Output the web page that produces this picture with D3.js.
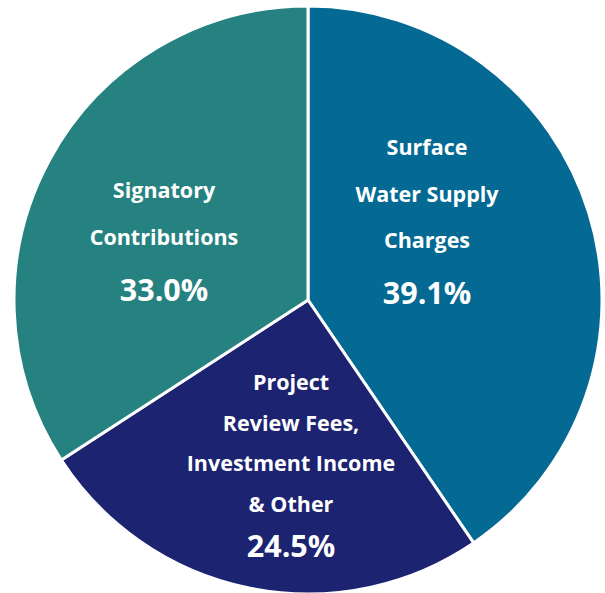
<!DOCTYPE html>
<html>
<head>
<meta charset="utf-8">
<script src="https://cdn.jsdelivr.net/npm/d3@7"></script>
<style>
  html, body { margin: 0; padding: 0; background: #ffffff; }
  svg { display: block; }
  text { font-family: "Open Sans", Lato, sans-serif; font-weight: bold; fill: #ffffff; }
</style>
</head>
<body>
<svg id="chart" width="605" height="593"></svg>
<script>
// Revenue sources (percent of total)
const categories = ["Surface Water Supply Charges", "Project Review Fees, Investment Income & Other", "Signatory Contributions"];
const values = [39.1, 24.5, 33.0];
const labelLines = [
  ["Surface", "Water Supply", "Charges"],
  ["Project", "Review Fees,", "Investment Income", "& Other"],
  ["Signatory", "Contributions"]
];
const colors = ["#046a94", "#1c2370", "#268280"];

const svg = d3.select("#chart");
const cx = 308, cy = 300, radius = 294;

const g = svg.append("g").attr("transform", `translate(${cx},${cy})`);

const pie = d3.pie().sort(null).value(d => d.value);
const data = pie(categories.map((c, i) => ({ name: c, value: values[i], lines: labelLines[i], color: colors[i] })));

const arc = d3.arc().innerRadius(0).outerRadius(radius);

g.selectAll("path.slice")
  .data(data)
  .join("path")
  .attr("class", "slice")
  .attr("d", arc)
  .attr("fill", d => d.data.color)
  .attr("stroke", "#ffffff")
  .attr("stroke-width", 3)
  .attr("stroke-linejoin", "round");

// Label block placement per slice (absolute centre x, first baseline y, line gap, percent baseline)
const labelLayout = [
  { x: 427, y: 155, gap: 46.5, pctY: 304 },
  { x: 291, y: 390, gap: 40.5, pctY: 557 },
  { x: 164, y: 198, gap: 47, pctY: 301 }
];

const labels = svg.append("g");
data.forEach((d, i) => {
  const L = labelLayout[i];
  const t = labels.append("text").attr("text-anchor", "middle").attr("font-size", 21.5);
  d.data.lines.forEach((line, j) => {
    t.append("tspan").attr("x", L.x).attr("y", L.y + j * L.gap).text(line);
  });
  labels.append("text")
    .attr("text-anchor", "middle")
    .attr("font-size", 30.5)
    .attr("x", L.x)
    .attr("y", L.pctY)
    .text(d3.format(".1f")(d.data.value) + "%");
});
</script>
</body>
</html>
